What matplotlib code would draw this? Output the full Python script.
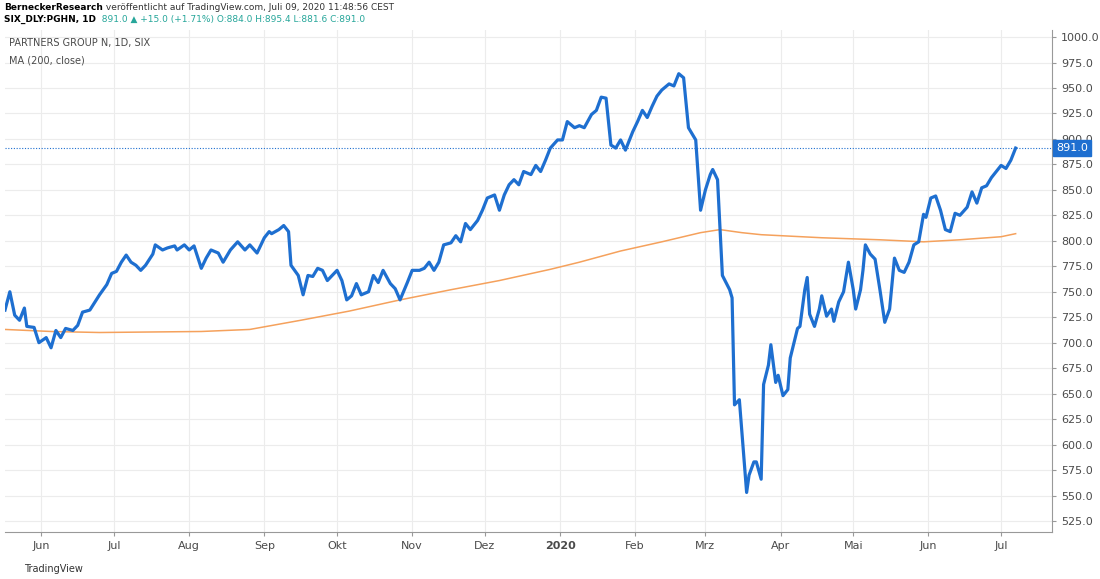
import datetime as dt
import matplotlib
matplotlib.use("Agg")
import matplotlib.pyplot as plt
import matplotlib.dates as mdates

START = dt.date(2019, 5, 17)

# price series: day offset from START, close
price_days = [0, 2, 4, 6, 8, 9, 12, 14, 17, 19, 21, 23, 25, 28, 30, 32, 35, 39, 42, 44, 46, 48, 50, 52, 54,
              56, 58, 61, 62, 65, 67, 70, 71, 74, 76, 78, 81, 83, 85, 88, 90, 93, 96, 99, 101, 104, 107,
              109, 110, 113, 115, 117, 118, 121, 123, 125, 127, 129, 131, 133, 137, 139, 141, 143, 145,
              147, 150, 152, 154, 156, 159, 161, 163, 166, 168, 171, 173, 175, 177, 179, 181, 184, 186,
              188, 190, 192, 195, 197, 199, 202, 204, 206, 208, 210, 212, 214, 217, 219, 221, 223, 225,
              228, 230, 232, 235, 237, 239, 242, 244, 246, 248, 250, 252, 254, 256, 259, 261, 263, 265,
              267, 269, 271, 274, 276, 278, 280, 282, 285, 287, 289, 291, 292, 294, 296, 299, 300, 301,
              303, 306, 307, 309, 310, 312, 313, 315, 316, 318, 319, 321, 323, 324, 327, 328, 330, 331,
              332, 334, 336, 337, 339, 341, 342, 344, 346, 348, 350, 351, 353, 354, 355, 357, 359, 361,
              363, 365, 367, 369, 371, 373, 375, 377, 379, 380, 382, 384, 386, 388, 390, 392, 394, 397,
              399, 401, 403, 405, 407, 409, 411, 413, 415, 417]
price_vals = [732, 750, 727, 722, 734, 716, 715, 700, 705, 695, 712, 705, 714, 712, 717, 730, 732, 747, 757,
              768, 770, 779, 786, 779, 776, 771, 776, 787, 796, 791, 793, 795, 791, 796, 791, 795, 773, 783,
              791, 788, 779, 791, 799, 791, 796, 788, 803, 809, 807, 811, 815, 809, 776, 766, 747, 766, 765,
              773, 771, 761, 771, 761, 742, 746, 758, 747, 750, 766, 759, 771, 758, 753, 742, 759, 771, 771,
              773, 779, 771, 779, 796, 798, 805, 799, 817, 811, 820, 830, 842, 845, 830, 845, 855, 860, 855,
              868, 865, 874, 868, 879, 891, 899, 899, 917, 911, 913, 911, 924, 928, 941, 940, 894, 891, 899,
              889, 907, 917, 928, 921, 932, 942, 948, 954, 952, 964, 960, 911, 899, 830, 850, 865, 870, 860,
              766, 752, 744, 639, 644, 553, 570, 583, 583, 566, 659, 678, 698, 661, 668, 648, 654, 685, 714,
              716, 752, 764, 728, 716, 733, 746, 726, 733, 721, 740, 750, 779, 752, 733, 752, 771, 796, 787,
              782, 752, 720, 733, 783, 771, 769, 779, 796, 799, 826, 823, 842, 844, 830, 811, 809, 827, 825,
              833, 848, 837, 852, 854, 862, 868, 874, 871, 879, 891]

ma_days = [0, 19, 39, 81, 101, 122, 142, 163, 184, 204, 225, 237, 254, 271, 287, 295, 304, 312, 337, 361,
           379, 394, 411, 417]
ma_vals = [713, 711, 710, 711, 713, 722, 731, 742, 752, 761, 772, 779, 790, 799, 808, 811, 808, 806, 803,
           801, 799, 801, 804, 807]

month_labels = ["Jun", "Jul", "Aug", "Sep", "Okt", "Nov", "Dez", "2020", "Feb", "Mrz", "Apr", "Mai", "Jun", "Jul"]
month_starts = [dt.date(2019, m, 1) for m in range(6, 13)] + [dt.date(2020, m, 1) for m in range(1, 8)]
y_ticks = list(range(525, 1001, 25))
last_price = 891.0

BLUE = "#1e6fd0"
ORANGE = "#f5a15c"
TEXT = "#4a4a4a"

fig = plt.figure(figsize=(11, 5.79), dpi=100)
ax = fig.add_axes([5 / 1100, 47 / 579, 1047 / 1100, 502 / 579])

px = [START + dt.timedelta(days=d) for d in price_days]
mx = [START + dt.timedelta(days=d) for d in ma_days]
ax.plot(mx, ma_vals, color=ORANGE, lw=1.1)
ax.plot(px, price_vals, color=BLUE, lw=2.3)
ax.axhline(last_price, color=BLUE, lw=0.8, ls=(0, (1, 1.5)))

ax.set_xlim(START, START + dt.timedelta(days=432))
ax.set_ylim(514.2, 1006.9)
ax.yaxis.tick_right()
ax.set_yticks(y_ticks)
ax.set_yticklabels([f"{v:.1f}" for v in y_ticks], fontsize=8, color=TEXT)
ax.set_xticks([mdates.date2num(d) for d in month_starts])
ax.set_xticklabels(month_labels, fontsize=8, color=TEXT)
for lab in ax.get_xticklabels():
    if lab.get_text() == "2020":
        lab.set_fontweight("bold")
ax.tick_params(length=3, color="#999999")
ax.grid(True, color="#ececec", lw=0.8)
for s in ax.spines.values():
    s.set_color("#999999")
    s.set_linewidth(0.8)
ax.spines["top"].set_visible(False)
ax.spines["left"].set_visible(False)

ax.annotate(f"{last_price:.1f}", xy=(1.0, last_price), xycoords=("axes fraction", "data"),
            xytext=(3, 0), textcoords="offset points", va="center", ha="left", fontsize=8,
            color="white", bbox=dict(boxstyle="square,pad=0.25", fc=BLUE, ec=BLUE))

ax.text(0.004, 0.985, "PARTNERS GROUP N, 1D, SIX", transform=ax.transAxes, fontsize=7, color=TEXT,
        va="top")
ax.text(0.004, 0.95, "MA (200, close)", transform=ax.transAxes, fontsize=7, color=TEXT, va="top")

# header: chain second parts after the bold lead text
t1 = fig.text(0.004, 0.994, "BerneckerResearch", fontsize=6.5, fontweight="bold", va="top")
fig.canvas.draw()
fig.text(0.004, 0.994, "", fontsize=6.5)
ax.annotate(" veröffentlicht auf TradingView.com, Juli 09, 2020 11:48:56 CEST", xy=(1, 0), xycoords=t1,
            va="bottom", ha="left", fontsize=6.5, color="#333333", annotation_clip=False)
t2 = fig.text(0.004, 0.974, "SIX_DLY:PGHN, 1D", fontsize=6.5, fontweight="bold", va="top")
ax.annotate("  891.0 ▲ +15.0 (+1.71%) O:884.0 H:895.4 L:881.6 C:891.0", xy=(1, 0), xycoords=t2,
            va="bottom", ha="left", fontsize=6.5, color="#26a69a", annotation_clip=False)
fig.text(0.022, 0.012, "TradingView", fontsize=7, color="#333333")

fig.savefig("out.png", dpi=100)
